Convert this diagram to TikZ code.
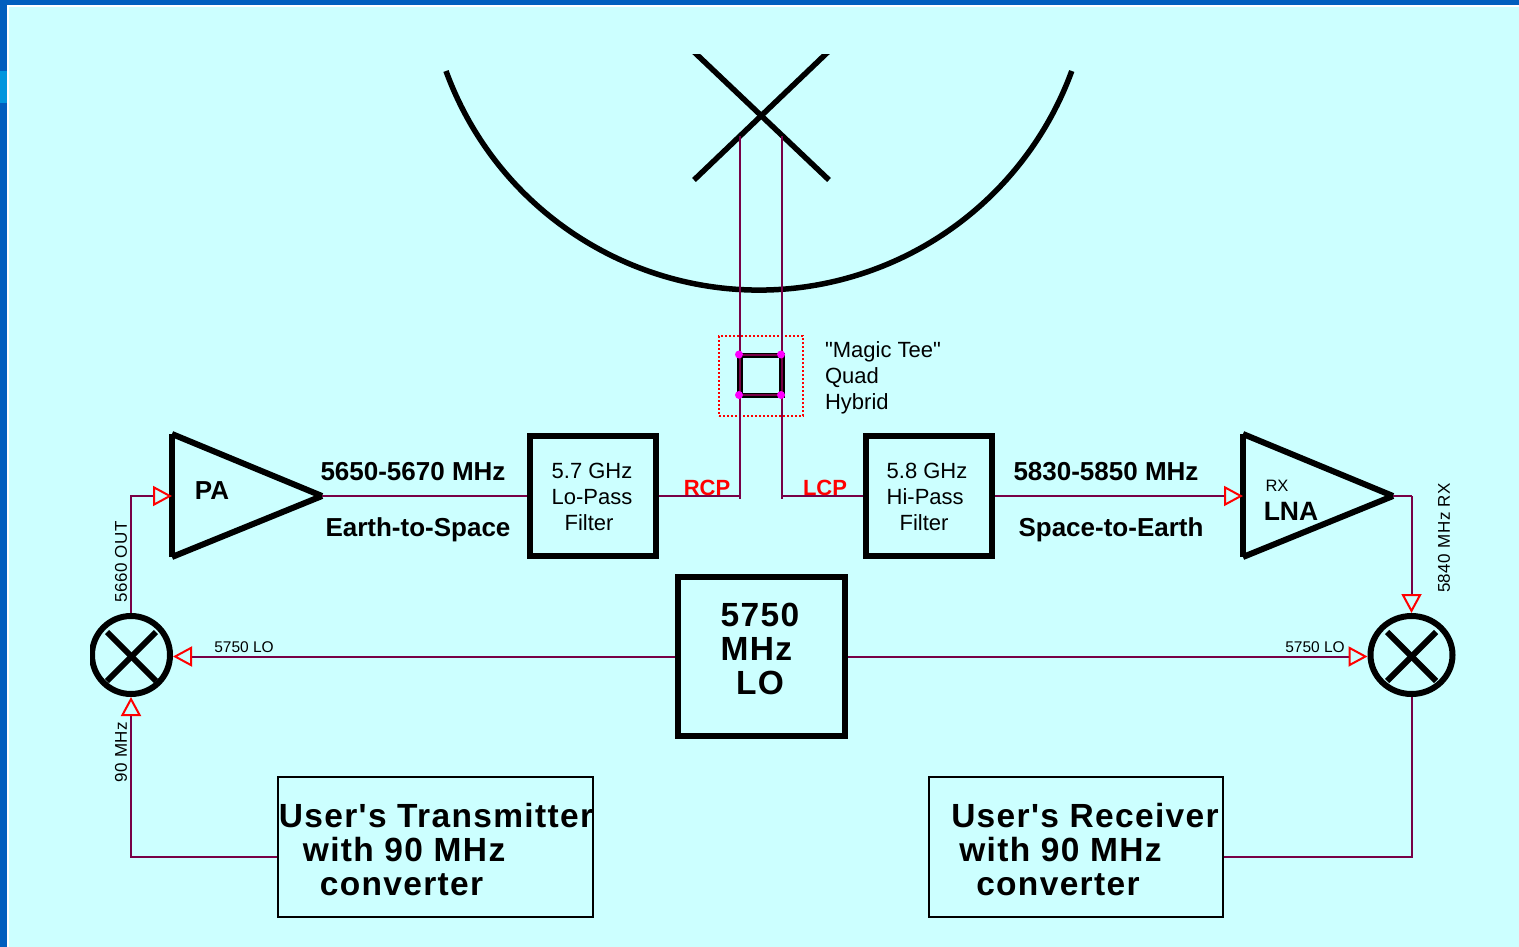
\documentclass[tikz,border=0pt]{standalone}
\usepackage{fontspec}
\setmainfont[Ligatures=TeXOff]{Liberation Sans}
\newfontfamily\widefont[LetterSpace=4]{Liberation Sans}
\newfontfamily\sidefont[LetterSpace=3]{Liberation Sans}
\usetikzlibrary{arrows.meta, shapes.geometric}
\definecolor{panel}{RGB}{204,255,255}
\definecolor{frameblue}{RGB}{0,94,190}
\definecolor{tabblue}{RGB}{0,150,222}
\definecolor{wire}{RGB}{120,0,70}
\definecolor{portpink}{RGB}{255,0,255}
\tikzset{
	heavy/.style={draw=black, line width=6pt},
	filterbox/.style={rectangle, heavy, minimum width=126pt, minimum height=120pt, inner sep=0pt},
	userbox/.style={rectangle, draw=black, line width=2pt, inner sep=0pt},
	wireline/.style={draw=wire, line width=2pt},
	flowtip/.style={wireline, arrows={-{Triangle[open, length=19pt, width=20pt, color=red, line width=2pt]}}},
	label/.style={inner sep=0pt, align=left},
	bold lab/.style={label, font=\fontsize{26}{30}\selectfont\bfseries},
	small lab/.style={label, font=\fontsize{15.5}{19}\selectfont},
	side lab/.style={label, rotate=90, font=\fontsize{17}{19}\selectfont\sidefont},
	filter lab/.style={label, font=\fontsize{22}{26}\selectfont},
	big lab/.style={label, font=\fontsize{33.5}{34}\selectfont\bfseries\widefont},
	red lab/.style={label, text=red, font=\fontsize{22}{26}\selectfont\bfseries},
	port/.style={circle, fill=portpink, inner sep=0pt, minimum size=8pt}
}
\begin{document}
\begin{tikzpicture}[x=1pt, y=1pt]
	\useasboundingbox (0,0) rectangle (1519,-947);
	\fill[frameblue] (0,0) rectangle (1519,-947);
	\fill[tabblue] (0,-71) rectangle (7,-103);
	\fill[white] (7,-5) rectangle (1519,-947);
	\fill[panel] (9,-7) rectangle (1519,-947);

	% dish and feed
	\draw[line width=5.5pt] (446,-71) arc[start angle=200.02, end angle=339.98, radius=333];
	\begin{scope}
		\clip (680,-55) rectangle (840,-190);
		\draw[line width=5.5pt] (692,-50) -- (829,-180);
		\draw[line width=5.5pt] (830,-50) -- (694,-180);
	\end{scope}

	% magic tee
	\node[draw=red, dash pattern=on 2pt off 2pt, line width=2pt, minimum width=84pt, minimum height=80pt, inner sep=0pt] (hybridzone) at (761,-376){};
	\node[draw=black, line width=5.5pt, minimum width=42pt, minimum height=40pt, inner sep=0pt] (hybrid) at (761,-375.5){};
	\node[label, font=\fontsize{22}{26}\selectfont] (hybridtext) at (883,-378){"Magic Tee"\\Quad\\Hybrid};

	% blocks
	\node[filterbox] (lopass) at (593,-496){};
	\node[filterbox] (hipass) at (929,-496){};
	\node[filter lab] (lotext) at (592,-497){5.7 GHz\\Lo-Pass\\\hspace*{13pt}Filter};
	\node[filter lab] (hitext) at (927,-497){5.8 GHz\\Hi-Pass\\\hspace*{13pt}Filter};
	\node[rectangle, heavy, minimum width=167pt, minimum height=159pt, inner sep=0pt] (lo) at (761.5,-656.5){};
	\node[big lab, align=center] (lotitle) at (760,-649){5750\\\hspace*{-7pt}MHz\\LO};
	\node[userbox, minimum width=315pt, minimum height=140pt] (txbox) at (435.5,-847){};
	\node[userbox, minimum width=294pt, minimum height=140pt] (rxbox) at (1076,-847){};
	\node[big lab] (txtext) at (436,-850){User's Transmitter\\\hspace*{24pt}with 90 MHz\\\hspace*{41pt}converter};
	\node[big lab] (rxtext) at (1085,-850){User's Receiver\\\hspace*{8pt}with 90 MHz\\\hspace*{25pt}converter};

	% amplifiers
	\coordinate (patop) at (172,-434);
	\coordinate (pabot) at (172,-557);
	\coordinate (patip) at (322,-496);
	\coordinate (pain) at (172,-496);
	\draw[heavy] (patop) -- (patip);
	\draw[heavy] (patip) -- (pabot);
	\draw[heavy] (pabot) -- (patop);
	\coordinate (lnatop) at (1243,-434);
	\coordinate (lnabot) at (1243,-557);
	\coordinate (lnatip) at (1393,-496);
	\coordinate (lnain) at (1243,-496);
	\draw[heavy] (lnatop) -- (lnatip);
	\draw[heavy] (lnatip) -- (lnabot);
	\draw[heavy] (lnabot) -- (lnatop);
	\node[bold lab] (patext) at (212,-491){PA};
	\node[label, font=\fontsize{16.5}{19}\selectfont] (rxtag) at (1277,-486){RX};
	\node[label, font=\fontsize{26.5}{30}\selectfont\bfseries] (lnatext) at (1291,-511){LNA};

	% mixers
	\begin{scope}
		\clip (90,-600) rectangle (190,-710);
		\node[circle, heavy, minimum size=78pt, inner sep=0pt] (txmix) at (131,-655){};
	\end{scope}
	\node[ellipse, heavy, minimum width=82pt, minimum height=78pt, inner sep=0pt] (rxmix) at (1411.5,-655){};
	\draw[heavy] (107,-632) -- (156,-681);
	\draw[heavy] (107,-681) -- (156,-632);
	\draw[heavy] (1387,-632) -- (1436,-681);
	\draw[heavy] (1387,-681) -- (1436,-632);

	% wires
	\coordinate (rcpend) at (740,-499);
	\coordinate (lcpend) at (782,-499);
	\coordinate (txcorner) at (131,-857);
	\coordinate (rxcorner) at (1411.5,-857);
	\coordinate (paturn) at (131,-496);
	\coordinate (lnaturn) at (1411.5,-496);
	\draw[wireline] (740,-136) -- (rcpend);
	\draw[wireline] (782,-136) -- (lcpend);
	\draw[wireline] (patip) -- (lopass.west);
	\draw[wireline] (lopass.east) -- (740,-496);
	\draw[wireline] (782,-496) -- (hipass.west);
	\draw[flowtip] (hipass.east) -- (lnain);
	\draw[wireline] (lnatip) -- (lnaturn);
	\draw[flowtip] (lnaturn) -- (rxmix.north);
	\draw[flowtip] (txmix.north) -- (paturn) -- (pain);
	\draw[flowtip] (lo.west) -- (lo.west -| txmix.east);
	\draw[flowtip] (lo.east) -- (lo.east -| rxmix.west);
	\draw[flowtip] (txbox.west |- txcorner) -- (txcorner) -- (txmix.south);
	\draw[wireline] (rxbox.east |- rxcorner) -- (rxcorner) -- (rxmix.south);

	% hybrid ports
	\node[port] (porta) at (739,-354.5){};
	\node[port] (portb) at (781,-354.5){};
	\node[port] (portc) at (739,-395){};
	\node[port] (portd) at (781,-395){};
	\draw[wireline] (porta) -- (portb);
	\draw[wireline] (portc) -- (portd);

	% labels
	\node[bold lab] (txband) at (413,-472){5650-5670 MHz};
	\node[bold lab] (txdir) at (418,-529.5){Earth-to-Space};
	\node[bold lab] (rxband) at (1106,-472){5830-5850 MHz};
	\node[bold lab] (rxdir) at (1111,-529.5){Space-to-Earth};
	\node[red lab] (rcp) at (707,-488){RCP};
	\node[red lab] (lcp) at (825,-488){LCP};
	\node[small lab] (lotx) at (244,-647){5750 LO};
	\node[small lab] (lorx) at (1315,-647){5750 LO};
	\node[side lab] (txout) at (121,-562){5660 OUT};
	\node[side lab] (txif) at (121,-752){90 MHz};
	\node[side lab] (rxin) at (1444,-538){5840 MHz RX};
\end{tikzpicture}
\end{document}
